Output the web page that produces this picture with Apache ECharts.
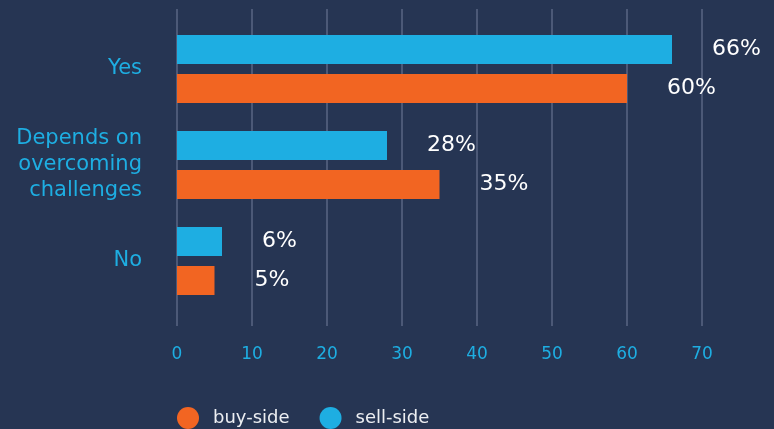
<!DOCTYPE html>
<html>
<head>
<meta charset="utf-8">
<script src="https://cdn.jsdelivr.net/npm/echarts@6/dist/echarts.min.js"></script>
<style>
  html, body { margin: 0; padding: 0; background: #263553; }
  #chart { width: 774px; height: 429px; }
</style>
</head>
<body>
<div id="chart"></div>
<script>
const categories = ["Yes", "Depends on\novercoming\nchallenges", "No"];
const sellSide = [66, 28, 6];
const buySide = [60, 35, 5];
const xTicks = [0, 10, 20, 30, 40, 50, 60, 70];

const chart = echarts.init(document.getElementById("chart"));

const font = "'DejaVu Sans', sans-serif";

const options = {
  backgroundColor: "#263553",
  animation: false,
  legend: {
    left: 177,
    top: 407,
    padding: 0,
    itemWidth: 22,
    itemHeight: 22,
    itemGap: 30,
    icon: "circle",
    data: ["buy-side", "sell-side"],
    textStyle: {
      color: "#eceef2",
      fontSize: 18,
      fontFamily: font,
      padding: [0, 0, 0, 9],
    },
  },
  grid: [
    { left: 177, right: 72, top: 21, height: 288 },
    { left: 177, right: 72, top: 9, height: 317 },
  ],
  xAxis: [
    {
      gridIndex: 0,
      type: "value",
      min: 0,
      max: 70,
      interval: 10,
      axisLabel: { show: false },
      axisLine: { show: false },
      axisTick: { show: false },
      splitLine: { show: false },
    },
    {
      gridIndex: 1,
      type: "value",
      min: 0,
      max: 70,
      interval: 10,
      axisLabel: {
        color: "#1eaee2",
        fontSize: 17,
        fontFamily: font,
        margin: 20,
        formatter: (v) => (xTicks.includes(v) ? String(v) : ""),
      },
      axisLine: { show: false },
      axisTick: { show: false },
      splitLine: { show: true, lineStyle: { color: "#4c5977", width: 2 } },
    },
  ],
  yAxis: [
    {
      gridIndex: 0,
      type: "category",
      inverse: true,
      data: categories,
      axisLine: { show: false },
      axisTick: { show: false },
      axisLabel: {
        color: "#1eaee2",
        fontSize: 21,
        fontFamily: font,
        margin: 35,
        align: "right",
        lineHeight: 26,
      },
    },
    {
      gridIndex: 1,
      type: "category",
      data: ["a"],
      show: false,
    },
  ],
  series: [
    {
      name: "sell-side",
      type: "bar",
      xAxisIndex: 0,
      yAxisIndex: 0,
      data: sellSide,
      barWidth: 29,
      barGap: "34%",
      itemStyle: { color: "#1eaee2" },
      label: {
        show: true,
        position: "right",
        distance: 40,
        formatter: "{c}%",
        color: "#ffffff",
        fontSize: 22,
        fontFamily: font,
      },
    },
    {
      name: "buy-side",
      type: "bar",
      xAxisIndex: 0,
      yAxisIndex: 0,
      data: buySide,
      barWidth: 29,
      barGap: "34%",
      itemStyle: { color: "#f26522" },
      label: {
        show: true,
        position: "right",
        distance: 40,
        formatter: "{c}%",
        color: "#ffffff",
        fontSize: 22,
        fontFamily: font,
      },
    },
  ],
};

chart.setOption(options);
</script>
</body>
</html>
